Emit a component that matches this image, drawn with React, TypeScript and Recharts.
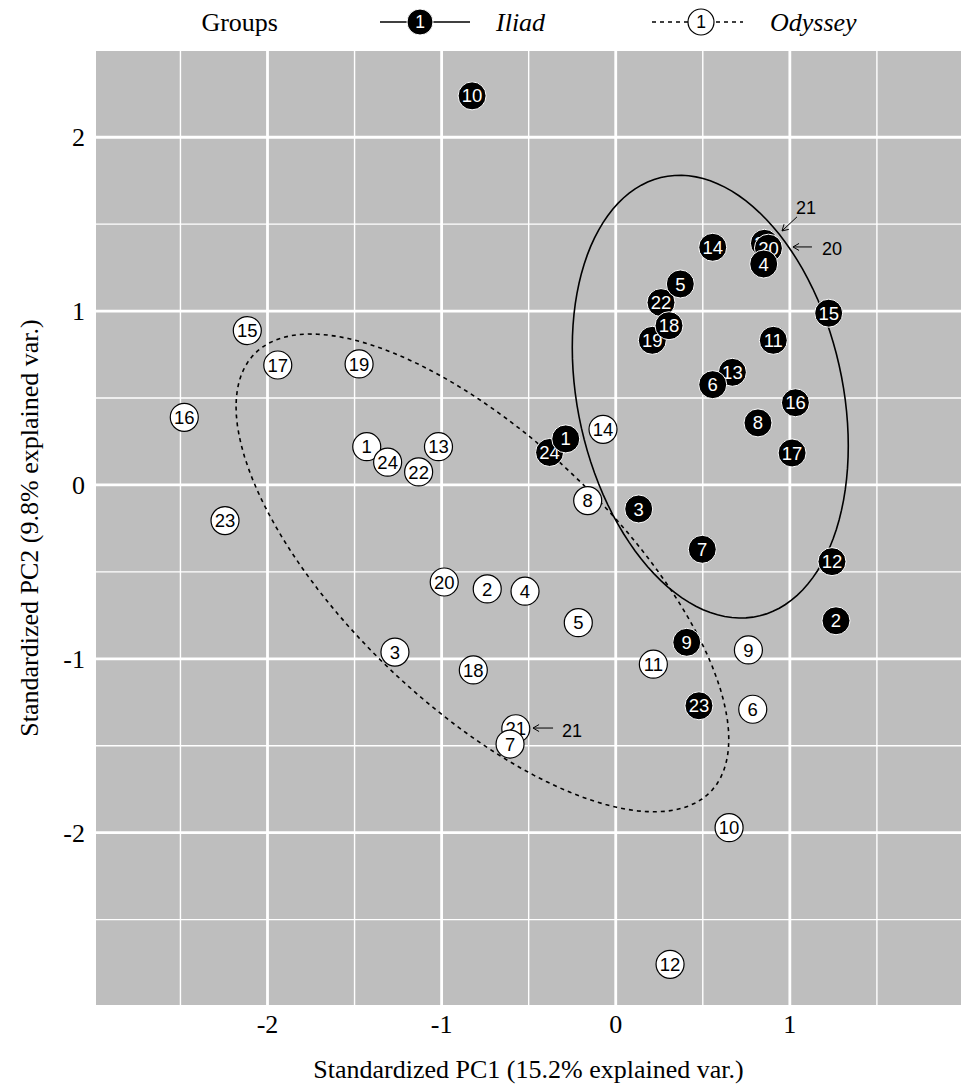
import React from 'react';
import { ScatterChart, Scatter, XAxis, YAxis, CartesianGrid, ReferenceLine, Label } from 'recharts';

// ---- data ----
const chapters = [1, 2, 3, 4, 5, 6, 7, 8, 9, 10, 11, 12, 13, 14, 15, 16, 17, 18, 19, 20, 21, 22, 23, 24];

const iliadX = [-0.287, 1.265, 0.132, 0.85, 0.371, 0.557, 0.497, 0.817, 0.408, -0.825, 0.905, 1.242, 0.67, 0.557, 1.223, 1.032, 1.013, 0.306, 0.21, 0.877, 0.854, 0.26, 0.478, -0.38];
const iliadY = [0.265, -0.781, -0.138, 1.271, 1.156, 0.577, -0.37, 0.357, -0.905, 2.238, 0.832, -0.441, 0.648, 1.367, 0.988, 0.473, 0.184, 0.916, 0.832, 1.362, 1.39, 1.049, -1.27, 0.187];

const odysseyX = [-1.43, -0.738, -1.268, -0.521, -0.215, 0.787, -0.607, -0.161, 0.762, 0.651, 0.216, 0.312, -1.018, -0.073, -2.116, -2.478, -1.941, -0.818, -1.474, -0.985, -0.574, -1.132, -2.244, -1.31];
const odysseyY = [0.22, -0.598, -0.961, -0.611, -0.792, -1.29, -1.49, -0.09, -0.949, -1.971, -1.031, -2.757, 0.22, 0.32, 0.888, 0.389, 0.69, -1.064, 0.696, -0.558, -1.402, 0.075, -0.205, 0.131];

// order in which the labelled circles are stacked (last on top)
const iliadDrawOrder = [2, 3, 7, 8, 9, 10, 11, 12, 14, 15, 16, 17, 23, 21, 20, 4, 13, 6, 19, 22, 18, 5, 24, 1];
const odysseyDrawOrder = [2, 3, 4, 5, 6, 8, 9, 10, 11, 12, 13, 14, 15, 16, 17, 18, 19, 20, 23, 21, 7, 1, 24, 22];

const groupNames = ['Iliad', 'Odyssey'];

const xTicks = [-2, -1, 0, 1];
const yTicks = [-2, -1, 0, 1, 2];
const xMinorTicks = [-2.5, -1.5, -0.5, 0.5, 1.5];
const yMinorTicks = [-2.5, -1.5, -0.5, 0.5, 1.5];
const xDomain = [-2.985, 1.983];
const yDomain = [-2.991, 2.496];

const xTitle = 'Standardized PC1 (15.2% explained var.)';
const yTitle = 'Standardized PC2 (9.8% explained var.)';
const legendTitle = 'Groups';

// callouts for overlapping points: label position and arrow (data units)
const callouts = [
  { text: '21', tx: 1.093, ty: 1.593, x1: 1.041, y1: 1.542, x2: 0.955, y2: 1.461 },
  { text: '20', tx: 1.242, ty: 1.358, x1: 1.127, y1: 1.369, x2: 1.018, y2: 1.369 },
  { text: '21', tx: -0.251, ty: -1.415, x1: -0.36, y1: -1.398, x2: -0.475, y2: -1.398 },
];

const ellipseProb = 0.68;

// ---- derived ----
type Pt = { x: number; y: number; label: string };

const makePoints = (xs: number[], ys: number[], order: number[]): Pt[] =>
  order.map((id) => {
    const i = chapters.indexOf(id);
    return { x: xs[i], y: ys[i], label: String(id) };
  });

const iliadPts = makePoints(iliadX, iliadY, iliadDrawOrder);
const odysseyPts = makePoints(odysseyX, odysseyY, odysseyDrawOrder);

// data ellipse as in ggbiplot: mu + circle %*% chol(Sigma) * sqrt(qchisq(p, 2))
const dataEllipse = (xs: number[], ys: number[]) => {
  const n = xs.length;
  const mx = xs.reduce((a, b) => a + b, 0) / n;
  const my = ys.reduce((a, b) => a + b, 0) / n;
  let sxx = 0, syy = 0, sxy = 0;
  for (let i = 0; i < n; i++) {
    sxx += (xs[i] - mx) ** 2;
    syy += (ys[i] - my) ** 2;
    sxy += (xs[i] - mx) * (ys[i] - my);
  }
  sxx /= n - 1; syy /= n - 1; sxy /= n - 1;
  const a = Math.sqrt(sxx);
  const b = sxy / a;
  const c = Math.sqrt(syy - b * b);
  const ed = Math.sqrt(-2 * Math.log(1 - ellipseProb));
  const pts: { x: number; y: number }[] = [];
  const steps = 120;
  for (let k = 0; k <= steps; k++) {
    const t = -Math.PI + (2 * Math.PI * k) / steps;
    const ct = Math.cos(t), st = Math.sin(t);
    pts.push({ x: mx + ed * ct * a, y: my + ed * (ct * b + st * c) });
  }
  return pts;
};

const iliadEllipse = dataEllipse(iliadX, iliadY);
const odysseyEllipse = dataEllipse(odysseyX, odysseyY);

const calloutLabels = callouts.map((c) => ({ x: c.tx, y: c.ty, label: c.text }));

// ---- styles ----
const SERIF = '"Liberation Serif", "Times New Roman", Times, serif';
const SANS = '"Liberation Sans", Arial, Helvetica, sans-serif';
const PANEL = '#bebebe';

const IliadDot = (props: any) => {
  const { cx, cy, payload } = props;
  if (cx == null || cy == null) return <g />;
  return (
    <g>
      <circle cx={cx} cy={cy} r={14} fill="#000" stroke="#fff" strokeWidth={1} />
      <text x={cx} y={cy + 6.6} textAnchor="middle" fill="#fff" fontSize={18.5} fontFamily={SANS}>
        {payload.label}
      </text>
    </g>
  );
};

const OdysseyDot = (props: any) => {
  const { cx, cy, payload } = props;
  if (cx == null || cy == null) return <g />;
  return (
    <g>
      <circle cx={cx} cy={cy} r={14} fill="#fff" stroke="#000" strokeWidth={1.2} />
      <text x={cx} y={cy + 6.6} textAnchor="middle" fill="#000" fontSize={18.5} fontFamily={SANS}>
        {payload.label}
      </text>
    </g>
  );
};

const CalloutText = (props: any) => {
  const { cx, cy, payload } = props;
  if (cx == null || cy == null) return <g />;
  return (
    <text x={cx} y={cy + 6.4} textAnchor="middle" fill="#000" fontSize={18} fontFamily={SANS}>
      {payload.label}
    </text>
  );
};

const Empty = () => <g />;

const Arrow = (props: any) => {
  const { x1, y1, x2, y2 } = props;
  if ([x1, y1, x2, y2].some((v) => v == null || isNaN(v))) return <g />;
  const ang = Math.atan2(y2 - y1, x2 - x1);
  const L = 7;
  const sp = Math.PI / 6;
  const ax = x2 - L * Math.cos(ang - sp);
  const ay = y2 - L * Math.sin(ang - sp);
  const bx = x2 - L * Math.cos(ang + sp);
  const by = y2 - L * Math.sin(ang + sp);
  return (
    <g>
      <line x1={x1} y1={y1} x2={x2} y2={y2} stroke="#000" strokeWidth={1} />
      <polyline points={`${ax},${ay} ${x2},${y2} ${bx},${by}`} fill="none" stroke="#000" strokeWidth={1} />
    </g>
  );
};

const XTick = (props: any) => {
  const { x, payload } = props;
  return (
    <text x={x} y={1033} textAnchor="middle" fill="#000" fontSize={26} fontFamily={SERIF}>
      {String(payload.value)}
    </text>
  );
};

const YTick = (props: any) => {
  const { y, payload } = props;
  return (
    <text x={85} y={y + 9} textAnchor="end" fill="#000" fontSize={26} fontFamily={SERIF}>
      {String(payload.value)}
    </text>
  );
};

const XTitle = (props: any) => {
  const vb = props.viewBox || { x: 96, width: 865 };
  return (
    <text x={vb.x + vb.width / 2} y={1078} textAnchor="middle" fill="#000" fontSize={26} fontFamily={SERIF}>
      {xTitle}
    </text>
  );
};

const YTitle = (props: any) => {
  const vb = props.viewBox || { y: 51, height: 954 };
  const cy = vb.y + vb.height / 2;
  return (
    <text x={38} y={cy} transform={`rotate(-90 38 ${cy})`} textAnchor="middle" fill="#000" fontSize={26} fontFamily={SERIF}>
      {yTitle}
    </text>
  );
};

const LegendBar = () => (
  <svg width={961} height={46} style={{ position: 'absolute', left: 0, top: 0 }}>
    <text x={278} y={31} textAnchor="end" fontSize={26} fontFamily={SERIF} fill="#000">
      {legendTitle}
    </text>
    <line x1={380} y1={22} x2={470} y2={22} stroke="#000" strokeWidth={1.6} />
    <circle cx={420} cy={22} r={13} fill="#000" stroke="#fff" strokeWidth={1} />
    <text x={420} y={28.2} textAnchor="middle" fontSize={17.5} fontFamily={SANS} fill="#fff">1</text>
    <text x={496} y={31} fontSize={26} fontFamily={SERIF} fontStyle="italic" fill="#000">
      {groupNames[0]}
    </text>
    <line x1={652} y1={22} x2={743} y2={22} stroke="#000" strokeWidth={1.6} strokeDasharray="4 4" />
    <circle cx={701} cy={22} r={13} fill="#fff" stroke="#000" strokeWidth={1.2} />
    <text x={701} y={28.2} textAnchor="middle" fontSize={17.5} fontFamily={SANS} fill="#000">1</text>
    <text x={770} y={31} fontSize={26} fontFamily={SERIF} fontStyle="italic" fill="#000">
      {groupNames[1]}
    </text>
  </svg>
);

export default function App() {
  return (
    <div style={{ position: 'absolute', left: 0, top: 0, width: 961, height: 1088, background: '#fff' }}>
      <ScatterChart width={961} height={1088} margin={{ top: 51, right: 0, bottom: 0, left: 0 }}>
        <CartesianGrid
          fill={PANEL}
          fillOpacity={1}
          stroke="#fff"
          strokeWidth={1.4}
          horizontalValues={yMinorTicks}
          verticalValues={xMinorTicks}
        />
        <CartesianGrid
          stroke="#fff"
          strokeWidth={2.8}
          horizontalValues={yTicks}
          verticalValues={xTicks}
        />
        <XAxis
          type="number"
          dataKey="x"
          domain={xDomain}
          ticks={xTicks}
          interval={0}
          allowDataOverflow
          axisLine={false}
          tickLine={false}
          height={83}
          tick={<XTick />}
          label={<Label content={<XTitle />} />}
        />
        <YAxis
          type="number"
          dataKey="y"
          domain={yDomain}
          ticks={yTicks}
          interval={0}
          allowDataOverflow
          axisLine={false}
          tickLine={false}
          width={96}
          tick={<YTick />}
          label={<Label content={<YTitle />} />}
        />
        <Scatter
          data={iliadEllipse}
          shape={<Empty />}
          line={{ stroke: '#000', strokeWidth: 1.6, fill: 'none' }}
          isAnimationActive={false}
          legendType="none"
        />
        <Scatter
          data={odysseyEllipse}
          shape={<Empty />}
          line={{ stroke: '#000', strokeWidth: 1.6, strokeDasharray: '4 4', fill: 'none' }}
          isAnimationActive={false}
          legendType="none"
        />
        {callouts.map((c, i) => (
          <ReferenceLine
            key={i}
            segment={[{ x: c.x1, y: c.y1 }, { x: c.x2, y: c.y2 }]}
            shape={<Arrow />}
            stroke="#000"
          />
        ))}
        <Scatter name={groupNames[1]} data={odysseyPts} shape={<OdysseyDot />} isAnimationActive={false} />
        <Scatter name={groupNames[0]} data={iliadPts} shape={<IliadDot />} isAnimationActive={false} />
        <Scatter data={calloutLabels} shape={<CalloutText />} isAnimationActive={false} legendType="none" />
      </ScatterChart>
      <LegendBar />
    </div>
  );
}
